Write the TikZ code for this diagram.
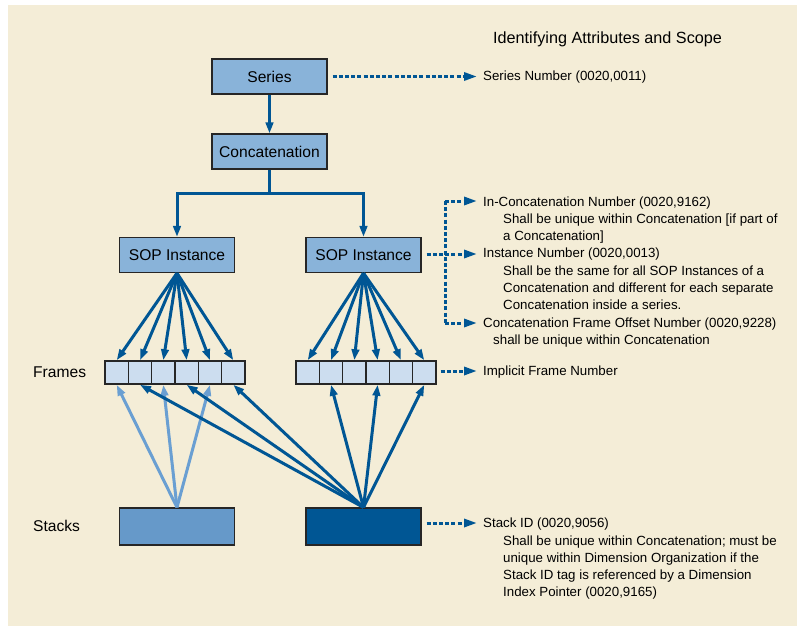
\documentclass[tikz,border=0pt]{standalone}
\usepackage{fontspec}
\setmainfont{Liberation Sans}
\usetikzlibrary{arrows.meta,calc}
\definecolor{bg}{HTML}{F4EDD7}
\definecolor{boxfill}{HTML}{89B3D9}
\definecolor{cellfill}{HTML}{CCDDEF}
\definecolor{dkblue}{HTML}{005694}
\definecolor{ltstack}{HTML}{6699C9}
\definecolor{ltarrow}{HTML}{6A9FD2}
\tikzset{
  box/.style={draw=black!85, line width=1.2pt, fill=boxfill, minimum width=115pt, minimum height=35pt, inner sep=0pt, font=\fontsize{15.6}{18}\selectfont},
  cell/.style={draw=black!85, line width=1.5pt, fill=cellfill, minimum width=23.33pt, minimum height=23pt, inner sep=0pt},
  stackbox/.style={draw=black!85, line width=1.2pt, minimum width=115pt, minimum height=37pt, inner sep=0pt},
  lbl/.style={font=\fontsize{15.6}{18}\selectfont, anchor=west, inner sep=0pt},
  txt/.style={font=\fontsize{13.3}{17}\selectfont, anchor=base west, inner sep=0pt},
  solidarr/.style={draw=dkblue, line width=3pt, -{Triangle[length=11pt,width=7.5pt]}},
  lightarr/.style={draw=ltarrow, line width=3pt, -{Triangle[length=11pt,width=7.5pt]}},
  dasharr/.style={draw=dkblue, line width=3pt, dash pattern=on 4pt off 2.2pt, -{Triangle[length=13pt,width=8pt]}},
  dashline/.style={draw=dkblue, line width=3pt, dash pattern=on 4pt off 2.2pt},
}
\begin{document}
\begin{tikzpicture}[x=1pt,y=-1pt]
\useasboundingbox (0,0) rectangle (797,626);
\fill[bg] (8,5) rectangle (797,626);

% title
\node[anchor=base west, inner sep=0pt, font=\fontsize{16.2}{19}\selectfont] (title) at (493,44) {Identifying Attributes and Scope};

% main boxes
\node[box] (series) at (269.5,76.5) {Series};
\node[box] (concat) at (269.5,151.5) {Concatenation};
\node[box] (sopl) at (177,255) {SOP Instance};
\node[box] (sopr) at (363.5,255) {SOP Instance};

% frames
\foreach \i in {1,...,6} {
  \node[cell] (fl\i) at ({105+23.33*(\i-0.5)},372.5) {};
  \node[cell] (fr\i) at ({296+23.33*(\i-0.5)},372.5) {};
}

% stacks
\node[stackbox, fill=ltstack] (stl) at (177,526.5) {};
\node[stackbox, fill=dkblue] (str) at (363.5,526.5) {};

% side labels
\node[lbl] (frameslbl) at (33,372) {Frames};
\node[lbl] (stackslbl) at (33,526) {Stacks};

% tree connectors
\draw[solidarr] (series) -- (concat);
\coordinate (branch) at (269.5,193);
\draw[draw=dkblue, line width=3pt] (concat.south) -- (branch);
\draw[solidarr] (branch) -| (sopl.north);
\draw[solidarr] (branch) -| (sopr.north);

% SOP -> frames
\foreach \i in {1,...,6} {
  \draw[solidarr] (sopl.south) -- (fl\i.north);
  \draw[solidarr] (sopr.south) -- (fr\i.north);
}

% stacks -> frames
\foreach \i in {1,3,5} {
  \draw[lightarr] (stl.north) -- (fl\i.south);
}
\foreach \i in {2,4,6} {
  \draw[solidarr] (str.north) -- (fl\i.south);
  \draw[solidarr] (str.north) -- (fr\i.south);
}

% right-hand texts
\node[txt] (t1) at (483,80.8) {Series Number (0020,0011)};
\node[txt] (t2) at (483,206.8) {In-Concatenation Number (0020,9162)};
\node[txt] (t3) at (503,223.8) {Shall be unique within Concatenation [if part of};
\node[txt] (t4) at (503,240.8) {a Concatenation]};
\node[txt] (t5) at (483,257.8) {Instance Number (0020,0013)};
\node[txt] (t6) at (503,275.3) {Shall be the same for all SOP Instances of a};
\node[txt] (t7) at (503,292.3) {Concatenation and different for each separate};
\node[txt] (t8) at (503,309.3) {Concatenation inside a series.};
\node[txt] (t9) at (483,327.3) {Concatenation Frame Offset Number (0020,9228)};
\node[txt] (t10) at (493,344.3) {shall be unique within Concatenation};
\node[txt] (t11) at (483,375.3) {Implicit Frame Number};
\node[txt] (t12) at (483,527.3) {Stack ID (0020,9056)};
\node[txt] (t13) at (503,545.3) {Shall be unique within Concatenation; must be};
\node[txt] (t14) at (503,562.3) {unique within Dimension Organization if the};
\node[txt] (t15) at (503,579.3) {Stack ID tag is referenced by a Dimension};
\node[txt] (t16) at (503,596.3) {Index Pointer (0020,9165)};

% dashed connectors
\coordinate (seriesend) at (477,76.5);
\draw[dasharr] ($(series.east)+(5,0)$) -- (seriesend);

\coordinate (brtop) at (445,201);
\coordinate (brbot) at (445,323);
\coordinate (brtopend) at (477,201);
\coordinate (brbotend) at (477,323);
\coordinate (instend) at (477,254);
\draw[dashline] (brtop) -- (brbot);
\draw[dasharr] (brtop) -- (brtopend);
\draw[dasharr] (brbot) -- (brbotend);
\draw[dasharr] ($(sopr.east)+(5,-1)$) -- (instend);

\coordinate (frameend) at (477,371);
\draw[dasharr] ($(fr6.east)+(4,-1.5)$) -- (frameend);

\coordinate (stackend) at (477,523);
\draw[dasharr] ($(str.east)+(5,-3.5)$) -- (stackend);
\end{tikzpicture}
\end{document}
